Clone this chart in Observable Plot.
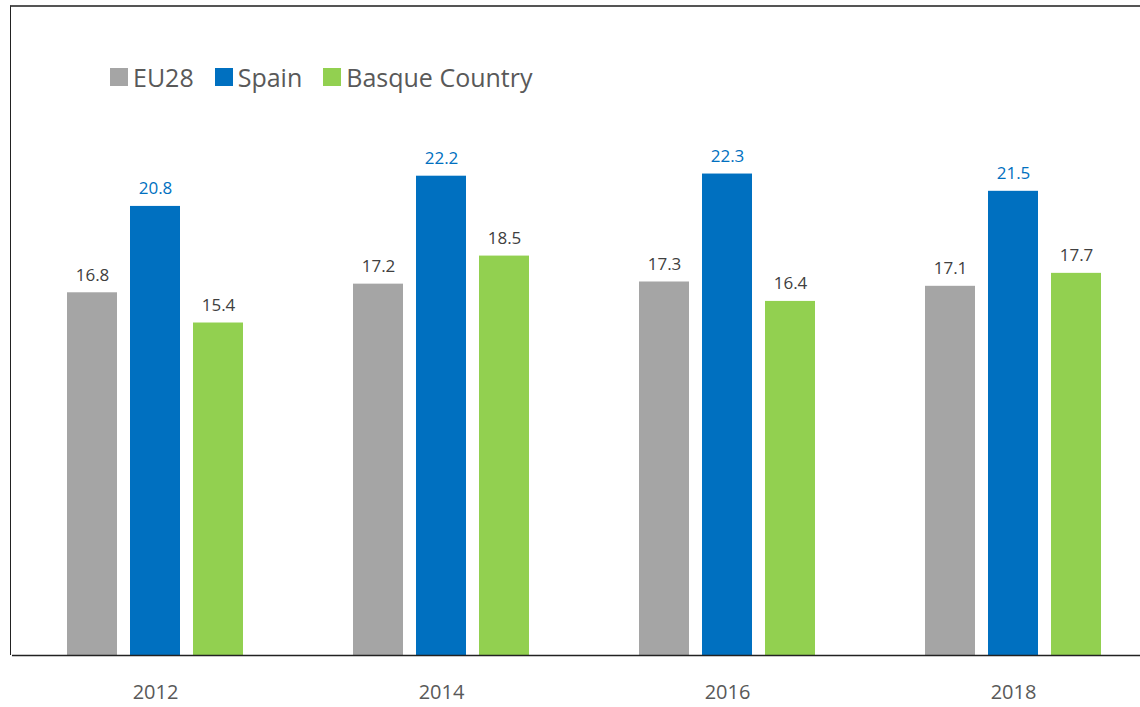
<!DOCTYPE html>
<html>
<head>
<meta charset="utf-8">
<script src="https://cdn.jsdelivr.net/npm/d3@7"></script>
<script src="https://cdn.jsdelivr.net/npm/@observablehq/plot@0.6"></script>
<style>
  html, body { margin: 0; padding: 0; background: #fff; overflow: hidden; }
  #wrap { position: relative; width: 1140px; height: 707px; font-family: "Open Sans", sans-serif; }
  #border { position: absolute; left: 10px; top: 5px; width: 1140px; height: 650px;
            border-top: 2px solid #555; border-left: 1.5px solid #222; box-sizing: border-box; }
  #legend { position: absolute; left: 110px; top: 60px; display: flex; gap: 21px; align-items: center;
            font-size: 25px; color: #595959; }
  #legend span.item { display: flex; align-items: center; gap: 5px; }
  #legend span.sw { display: inline-block; width: 18px; height: 18px; }
  #chart { position: absolute; left: 0; top: 0; }
</style>
</head>
<body>
<div id="wrap">
  <div id="border"></div>
  <div id="chart"></div>
  <div id="legend"></div>
</div>
<script>
const years = ["2012", "2014", "2016", "2018"];
const seriesNames = ["EU28", "Spain", "Basque Country"];
const seriesColors = ["#A5A5A5", "#0070C0", "#92D050"];
const labelColors = ["#404040", "#0070C0", "#404040"];
const eu28 = [16.8, 17.2, 17.3, 17.1];
const spain = [20.8, 22.2, 22.3, 21.5];
const basque = [15.4, 18.5, 16.4, 17.7];

const seriesValues = [eu28, spain, basque];
const data = [];
years.forEach((yr, i) => {
  seriesNames.forEach((s, j) => {
    data.push({year: yr, series: s, value: seriesValues[j][i]});
  });
});

const labelColor = new Map(seriesNames.map((s, j) => [s, labelColors[j]]));

const chart = Plot.plot({
  width: 1140,
  height: 707,
  marginLeft: 11,
  marginRight: 0,
  marginTop: 6,
  marginBottom: 52,
  style: {fontFamily: "Open Sans, sans-serif", background: "transparent", overflow: "visible"},
  fx: {domain: years, range: [11.5, 1155.5], padding: 0, label: null, axis: null},
  x: {domain: seriesNames, paddingInner: 0.213, paddingOuter: 0.858, axis: null},
  y: {domain: [0, 30.06], axis: null},
  color: {domain: seriesNames, range: seriesColors},
  marks: [
    Plot.barY(data, {fx: "year", x: "series", y: "value", fill: "series"}),
    Plot.text(data, {fx: "year", x: "series", y: "value", text: d => d.value.toFixed(1),
      fill: d => labelColor.get(d.series), lineAnchor: "bottom", dy: -12, fontSize: 17}),
    Plot.axisFx({anchor: "bottom", tickSize: 0, tickPadding: 29, fontSize: 20, fill: "#595959", label: null}),
    Plot.ruleY([0], {stroke: "#222", strokeWidth: 1.5})
  ]
});
document.getElementById("chart").appendChild(chart);

const legend = document.getElementById("legend");
seriesNames.forEach((s, j) => {
  const item = document.createElement("span");
  item.className = "item";
  const sw = document.createElement("span");
  sw.className = "sw";
  sw.style.background = seriesColors[j];
  const lb = document.createElement("span");
  lb.textContent = s;
  item.appendChild(sw);
  item.appendChild(lb);
  legend.appendChild(item);
});
</script>
</body>
</html>
